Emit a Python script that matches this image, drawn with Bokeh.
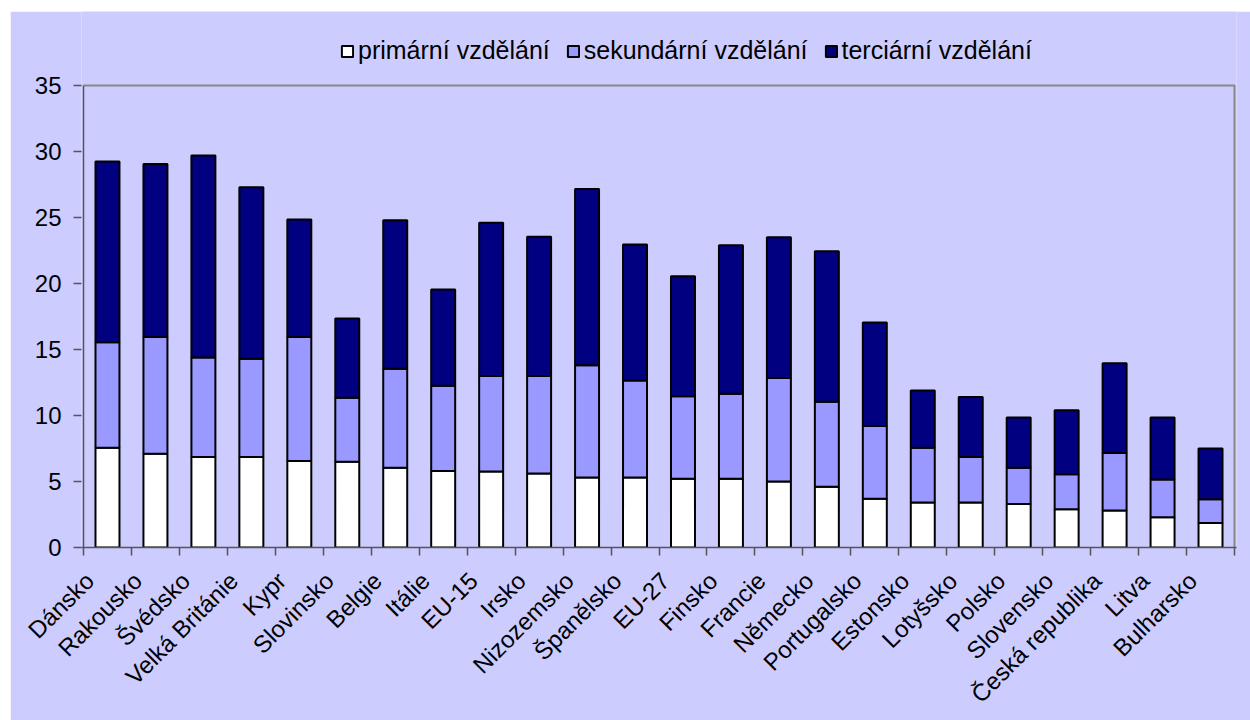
from math import pi
from bokeh.plotting import figure
from bokeh.models import Range1d, FixedTicker, Legend, LegendItem, ColumnDataSource, Spacer
from bokeh.layouts import row, column
from bokeh.embed import file_html
from bokeh.resources import INLINE

countries = ["Dánsko", "Rakousko", "Švédsko", "Velká Británie", "Kypr", "Slovinsko",
             "Belgie", "Itálie", "EU-15", "Irsko", "Nizozemsko", "Španělsko", "EU-27",
             "Finsko", "Francie", "Německo", "Portugalsko", "Estonsko", "Lotyšsko",
             "Polsko", "Slovensko", "Česká republika", "Litva", "Bulharsko"]

primarni = [7.55, 7.1, 6.85, 6.85, 6.55, 6.5, 6.05, 5.8, 5.75, 5.6, 5.3, 5.3, 5.2,
            5.2, 5.0, 4.6, 3.7, 3.4, 3.4, 3.3, 2.9, 2.8, 2.3, 1.85]
sekundarni = [8.0, 8.85, 7.55, 7.45, 9.4, 4.85, 7.5, 6.45, 7.25, 7.4, 8.5, 7.35, 6.25,
              6.45, 7.85, 6.45, 5.5, 4.15, 3.45, 2.75, 2.65, 4.35, 2.85, 1.8]
terciarni = [13.7, 13.1, 15.3, 13.0, 8.9, 6.0, 11.25, 7.3, 11.6, 10.55, 13.35, 10.3, 9.1,
             11.25, 10.65, 11.4, 7.85, 4.35, 4.55, 3.8, 4.85, 6.8, 4.7, 3.85]
series = ["primární vzdělání", "sekundární vzdělání", "terciární vzdělání"]
y_ticks = [0, 5, 10, 15, 20, 25, 30, 35]

colors = ["#FFFFFF", "#9999FF", "#000080"]
BG = "#CCCCFF"
AX = "#555555"
BORDER = "#888888"
FONT = "Liberation Sans"
XFS = "24px"

n = len(countries)
xs = list(range(n))
src = ColumnDataSource(dict(x=xs, p=primarni, s=sekundarni, t=terciarni))

# layout geometry (pixels): plot area of the chart spans 83..1234 x 85..547 on the page
FRAME_H = 536                      # frame from page y 11 down to 547
PX_PER_UNIT = 462 / y_ticks[-1]    # 35 units between page y 547 and 85
Y_END = FRAME_H / PX_PER_UNIT      # extra room above 35 holds the legend
EPS = 2 / (1151 / n)               # 2 px padding each side in x

p = figure(width=1240, height=709, output_backend="svg", toolbar_location=None,
           x_range=Range1d(-0.5 - EPS, n - 0.5 + EPS), y_range=Range1d(0, Y_END),
           min_border_left=71, min_border_right=14, min_border_top=0, min_border_bottom=173)
p.background_fill_color = BG
p.border_fill_color = BG
p.outline_line_color = None
p.grid.visible = False

renderers = p.vbar_stack(["p", "s", "t"], x="x", width=0.5, source=src,
                         fill_color=colors, line_color="black", line_width=2)

# plot-area border (top and right) and the value axis line, up to the last tick
x0, x1, ytop = -0.5, n - 0.5, y_ticks[-1]
p.line(x=[x0, x1, x1], y=[ytop, ytop, 0], line_color=BORDER, line_width=2)
p.line(x=[x0, x0], y=[0, ytop], line_color=AX, line_width=1.5)

# y axis
yax = p.yaxis[0]
yax.ticker = FixedTicker(ticks=y_ticks)
yax.minor_tick_line_color = None
yax.major_tick_in = 0
yax.major_tick_out = 8
yax.axis_line_color = None
yax.major_tick_line_color = AX
yax.major_tick_line_width = 1.5
yax.major_label_text_font = FONT
yax.major_label_text_font_size = "24px"
yax.major_label_text_color = "black"
yax.major_label_standoff = 12

# x axis: labels (shifted like the reference), ticks at category boundaries (minor)
label_pos = [i - 0.37 for i in xs]
xax = p.xaxis[0]
xax.ticker = FixedTicker(ticks=label_pos, minor_ticks=[i - 0.5 for i in range(n + 1)])
xax.major_label_overrides = {pos: c for pos, c in zip(label_pos, countries)}
xax.major_tick_out = 0
xax.major_tick_in = 0
xax.major_tick_line_color = None
xax.minor_tick_in = 0
xax.minor_tick_out = 8
xax.minor_tick_line_color = AX
xax.minor_tick_line_width = 1.5
xax.axis_line_color = AX
xax.axis_line_width = 1.5
xax.major_label_orientation = pi / 4
xax.major_label_text_font = FONT
xax.major_label_text_font_size = XFS
xax.major_label_text_color = "black"
xax.major_label_standoff = 21

legend = Legend(items=[LegendItem(label=series[i], renderers=[renderers[i]]) for i in range(3)],
                orientation="horizontal", location=(259, 482))
legend.background_fill_alpha = 0
legend.border_line_color = None
legend.label_text_font = FONT
legend.label_text_font_size = "25px"
legend.label_text_color = "black"
legend.glyph_width = 14
legend.glyph_height = 14
legend.label_standoff = 4
legend.spacing = 16
legend.padding = 0
legend.margin = 0
p.add_layout(legend, "center")

layout = row(Spacer(width=10, height=720),
             column(Spacer(width=1240, height=11), p))
open("out.html", "w").write(file_html(layout, INLINE))
